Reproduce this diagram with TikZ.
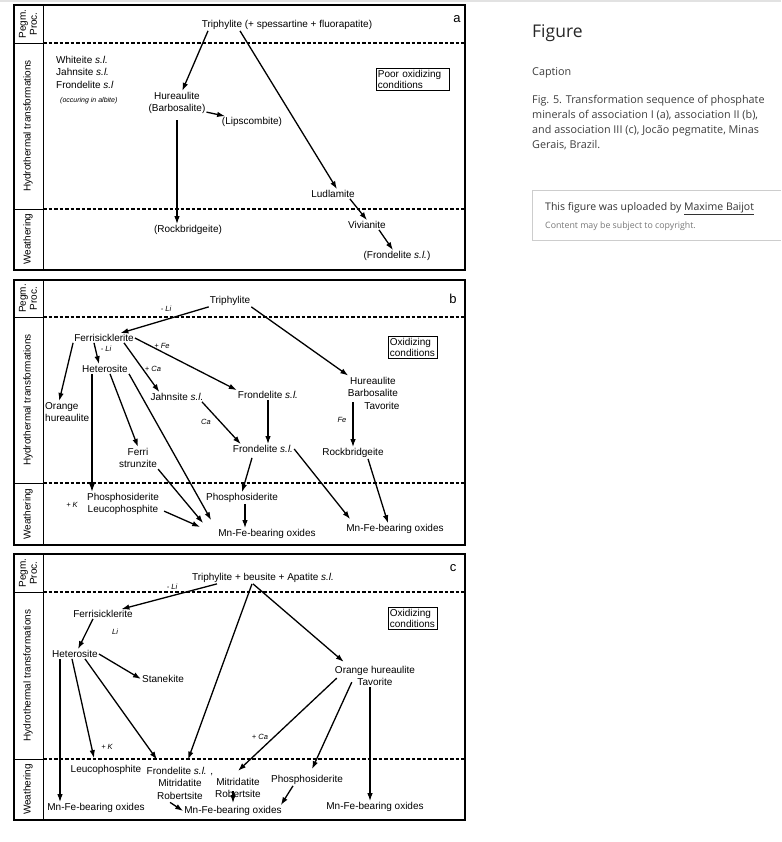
\documentclass[tikz,border=0pt]{standalone}
\usepackage{fontspec}
\setmainfont{Liberation Sans}
\newfontfamily\capfont{Open Sans}
\usetikzlibrary{arrows.meta}
\definecolor{pagerule}{RGB}{226,226,226}
\definecolor{captext}{RGB}{60,60,60}
\definecolor{boxline}{RGB}{205,205,205}
\definecolor{faint}{RGB}{120,120,120}
\tikzset{
  frame/.style={draw=black,line width=2.2pt},
  rule/.style={black,line width=0.8pt},
  zone/.style={black,line width=1.1pt,dash pattern=on 3.5pt off 2pt},
  flow/.style={-{Latex[length=8pt,width=5.5pt]},line width=1.3pt},
  mineral/.style={font=\fontsize{10}{12.5}\selectfont,inner sep=1pt,align=center},
  cond/.style={draw=black,line width=0.8pt,font=\fontsize{10}{11.5}\selectfont,align=left,inner sep=1.5pt},
  tag/.style={font=\fontsize{7.5}{9}\selectfont\itshape,inner sep=0.5pt},
  side/.style={rotate=90,font=\fontsize{10}{11}\selectfont,align=center,inner sep=0pt},
  panel/.style={font=\fontsize{13}{15}\selectfont,inner sep=0pt},
  captxt/.style={font=\capfont\fontsize{10.8}{15}\selectfont,text=captext,anchor=west,inner sep=0pt},
}

\begin{document}
\begin{tikzpicture}[x=1pt,y=-1pt]
  \path[use as bounding box] (0,0) rectangle (781,842);
  \draw[pagerule,line width=2pt] (0,1) -- (781,1);

  \draw[frame] (14,5) rectangle (465,270);
  \draw[rule] (43,5) -- (43,270);
  \draw[rule] (14,43) -- (43,43);
  \draw[rule] (14,209) -- (43,209);
  \draw[zone] (43,43) -- (465,43);
  \draw[zone] (43,209) -- (465,209);
  \node[panel] (a-lab) at (457,19) {a};
  \node[side] (a-pp) at (28,24) {Pegm.\\Proc.};
  \node[side] (a-ht) at (28,126) {Hydrothermal transformations};
  \node[side] (a-we) at (28,239) {Weathering};

  \node[mineral] (a-tri) at (287,25) {Triphylite (+ spessartine + fluorapatite)};
  \node[mineral,align=left,anchor=north west] (a-list) at (55,55)
    {Whiteite \textit{s.l.}\\Jahnsite \textit{s.l.}\\Frondelite \textit{s.l}\\[2pt]
     \hspace*{4pt}{\fontsize{7}{8}\selectfont\itshape (occuring in albite)}};
  \node[cond,text width=70pt,anchor=north west] (a-cond) at (376,68) {Poor oxidizing\\conditions};
  \node[mineral] (a-hur) at (177,103) {Hureaulite\\(Barbosalite)};
  \node[mineral] (a-lip) at (252,122) {(Lipscombite)};
  \node[mineral] (a-rock) at (188,230) {(Rockbridgeite)};
  \node[mineral] (a-lud) at (333,194) {Ludlamite};
  \node[mineral] (a-viv) at (367,225) {Vivianite};
  \node[mineral] (a-fro) at (397,256) {(Frondelite \textit{s.l.})};
  \draw[flow] ([xshift=-79pt]a-tri.south) -- (a-hur);
  \draw[flow] ([yshift=3pt]a-hur.south east) -- (a-lip);
  \draw[flow] ([yshift=-5pt]a-hur.south) -- (a-hur.south |- a-rock.north);
  \draw[flow] ([xshift=-47pt]a-tri.south) -- ([xshift=4pt]a-lud.north);
  \draw[flow] ([xshift=-6pt]a-lud.south east) -- (a-viv.north);
  \draw[flow] ([xshift=-8pt]a-viv.south east) -- ([xshift=-4pt]a-fro.north);

  \draw[frame] (14,280) rectangle (465,545);
  \draw[rule] (43,280) -- (43,545);
  \draw[rule] (14,317) -- (43,317);
  \draw[rule] (14,483) -- (43,483);
  \draw[zone] (43,317) -- (465,317);
  \draw[zone] (43,483) -- (465,483);
  \node[panel] (b-lab) at (453,299) {b};
  \node[side] (b-pp) at (28,298.5) {Pegm.\\Proc.};
  \node[side] (b-ht) at (28,400) {Hydrothermal transformations};
  \node[side] (b-we) at (28,514) {Weathering};

  \node[mineral] (b-tri) at (230,301) {Triphylite};
  \node[mineral] (b-fer) at (104,338) {Ferrisicklerite};
  \node[mineral] (b-het) at (105,369) {Heterosite};
  \node[mineral,align=left,anchor=west] (b-ora) at (44,412) {Orange\\hureaulite};
  \node[mineral] (b-jah) at (177,397) {Jahnsite \textit{s.l.}};
  \node[mineral] (b-fr1) at (268,395) {Frondelite \textit{s.l.}};
  \node[mineral] (b-fr2) at (263,449) {Frondelite \textit{s.l.}};
  \node[mineral] (b-hur) at (373,393) {Hureaulite\\Barbosalite\\\hspace*{18pt}Tavorite};
  \node[cond,text width=46pt,anchor=north west] (b-cond) at (388,336) {Oxidizing\\conditions};
  \node[mineral] (b-rock) at (353,453) {Rockbridgeite};
  \node[mineral] (b-str) at (138,458) {Ferri\\strunzite};
  \node[mineral] (b-pl) at (123,504) {Phosphosiderite\\Leucophosphite};
  \node[mineral] (b-pm) at (242,498) {Phosphosiderite};
  \node[mineral] (b-mn1) at (267,534) {Mn-Fe-bearing oxides};
  \node[mineral] (b-mn2) at (395,529) {Mn-Fe-bearing oxides};
  \node[tag] (b-t1) at (166,309) {- Li};
  \node[tag] (b-t2) at (106,349) {- Li};
  \node[tag] (b-t3) at (162,346) {+ Fe};
  \node[tag] (b-t4) at (153,369) {+ Ca};
  \node[tag] (b-t5) at (206,422) {Ca};
  \node[tag] (b-t6) at (342,420) {Fe};
  \node[tag] (b-t7) at (72,505) {+ K};
  \draw[flow] (b-tri.south west) -- (b-fer);
  \draw[flow] (b-tri.south east) -- ([xshift=3pt]b-hur.north west);
  \draw[flow] (b-fer.east) -- (b-fr1.north west);
  \draw[flow] ([xshift=20pt]b-fer.south) -- ([xshift=10pt]b-jah.north west);
  \draw[flow] ([xshift=-10pt]b-fer.south) -- ([xshift=-6pt]b-het.north);
  \draw[flow] (b-fer.south west) -- ([xshift=-8pt]b-ora.north);
  \draw[flow] ([xshift=-13pt]b-het.south) -- ([xshift=-13pt]b-het.south |- b-pl.north);
  \draw[flow] ([xshift=5pt]b-het.south) -- (b-str.north);
  \draw[flow] (b-het.south east) -- ([xshift=-6pt,yshift=8pt]b-mn1.north west);
  \draw[flow] (b-str.south east) -- ([xshift=-14pt,yshift=5pt]b-mn1.north west);
  \draw[flow] ([xshift=4pt,yshift=5pt]b-pl.south east) -- ([xshift=-17pt,yshift=7pt]b-mn1.west);
  \draw[flow] (b-fr1.south) -- (b-fr1.south |- b-fr2.north);
  \draw[flow] ([xshift=25pt]b-jah.south) -- ([xshift=9pt]b-fr2.north west);
  \draw[flow] ([xshift=-20pt,yshift=8pt]b-hur.south) -- ([xshift=-20pt]b-hur.south |- b-rock.north);
  \draw[flow] ([xshift=-11pt,yshift=-4pt]b-fr2.south) -- (b-pm.north);
  \draw[flow] ([xshift=3pt]b-pm.south) -- ([xshift=3pt]b-pm.south |- b-mn1.north);
  \draw[flow] (b-fr2.east) -- ([xshift=5pt,yshift=4pt]b-mn2.north west);
  \draw[flow] ([xshift=15pt]b-rock.south) -- ([xshift=-7pt]b-mn2.north);

  \draw[frame] (14,554) rectangle (465,820);
  \draw[rule] (43,554) -- (43,820);
  \draw[rule] (14,592) -- (43,592);
  \draw[rule] (14,759) -- (43,759);
  \draw[zone] (43,592) -- (465,592);
  \draw[zone] (43,759) -- (465,759);
  \node[panel] (c-lab) at (453,568) {c};
  \node[side] (c-pp) at (28,573) {Pegm.\\Proc.};
  \node[side] (c-ht) at (28,675.5) {Hydrothermal transformations};
  \node[side] (c-we) at (28,789.5) {Weathering};

  \node[mineral] (c-tri) at (263,578) {Triphylite + beusite + Apatite \textit{s.l.}};
  \node[mineral] (c-fer) at (103,614) {Ferrisicklerite};
  \node[mineral] (c-het) at (75,654) {Heterosite};
  \node[mineral] (c-sta) at (163,679) {Stanekite};
  \node[mineral] (c-ora) at (375,676) {Orange hureaulite\\Tavorite};
  \node[cond,text width=46pt,anchor=north west] (c-cond) at (388,607) {Oxidizing\\conditions};
  \node[mineral] (c-leu) at (106,770) {Leucophosphite};
  \node[mineral] (c-fro) at (180,783) {Frondelite \textit{s.l.} ,\\Mitridatite\\Robertsite};
  \node[mineral] (c-mit) at (238,788) {Mitridatite\\Robertsite};
  \node[mineral] (c-pho) at (307,780) {Phosphosiderite};
  \node[mineral] (c-mnl) at (96,808) {Mn-Fe-bearing oxides};
  \node[mineral] (c-mnm) at (233,811) {Mn-Fe-bearing oxides};
  \node[mineral] (c-mnr) at (375,807) {Mn-Fe-bearing oxides};
  \node[tag] (c-t1) at (172,587) {- Li};
  \node[tag] (c-t2) at (115,632) {Li};
  \node[tag] (c-t3) at (107,747) {+ K};
  \node[tag] (c-t4) at (260,737) {+ Ca};
  \draw[flow] ([xshift=-46pt]c-tri.south) -- (c-fer);
  \draw[flow] ([xshift=-11pt]c-tri.south) -- ([xshift=8pt,yshift=6pt]c-fro.north);
  \draw[flow] ([xshift=-10pt]c-tri.south) -- ([xshift=10pt,yshift=3pt]c-ora.north west);
  \draw[flow] ([xshift=-10pt]c-fer.south) -- ([xshift=3pt]c-het.north);
  \draw[flow] (c-het.east) -- (c-sta.west);
  \draw[flow] ([xshift=-15pt]c-het.south) -- ([xshift=-15pt]c-het.south |- c-mnl.north);
  \draw[flow] ([xshift=-3pt]c-het.south) -- ([xshift=-12pt,yshift=6pt]c-leu.north);
  \draw[flow] ([xshift=10pt]c-het.south) -- ([xshift=-23pt,yshift=6pt]c-fro.north);
  \draw[flow] ([xshift=3pt,yshift=9pt]c-ora.south west) -- ([yshift=6pt]c-mit.north);
  \draw[flow] ([xshift=18pt,yshift=5pt]c-ora.south west) -- ([xshift=5pt,yshift=5pt]c-pho.north);
  \draw[flow] ([xshift=-5pt]c-ora.south) -- ([xshift=-5pt]c-ora.south |- c-mnr.north);
  \draw[flow] ([xshift=-10pt,yshift=-2pt]c-fro.south) -- (c-mnm.west);
  \draw[flow] ([xshift=-5pt,yshift=8pt]c-mit.south) -- ([xshift=-5pt,yshift=-4pt]c-mit.south);
  \draw[flow] ([xshift=-14pt]c-pho.south) -- ([xshift=-2pt]c-mnm.north east);

  \node[captxt,font=\capfont\fontsize{17.5}{20}\selectfont,text=black!85] (fig-title) at (532,33) {Figure};
  \node[captxt] (fig-cap) at (532,73) {Caption};
  \node[captxt,anchor=north west,align=left] (fig-text) at (532,95)
    {Fig. 5. Transformation sequence of phosphate\\minerals of association I (a), association II (b),\\
     and association III (c), Jocão pegmatite, Minas\\Gerais, Brazil.};
  \draw[boxline,line width=0.8pt] (781,190) -- (532,190) -- (532,240) -- (781,240);
  \node[captxt,font=\capfont\fontsize{10.5}{12}\selectfont,text=black!80] (fig-up) at (545,209)
    {This figure was uploaded by \underline{Maxime Baijot}};
  \node[captxt,font=\capfont\fontsize{8.8}{10}\selectfont,text=faint] (fig-copy) at (545,226)
    {Content may be subject to copyright.};
\end{tikzpicture}
\end{document}
